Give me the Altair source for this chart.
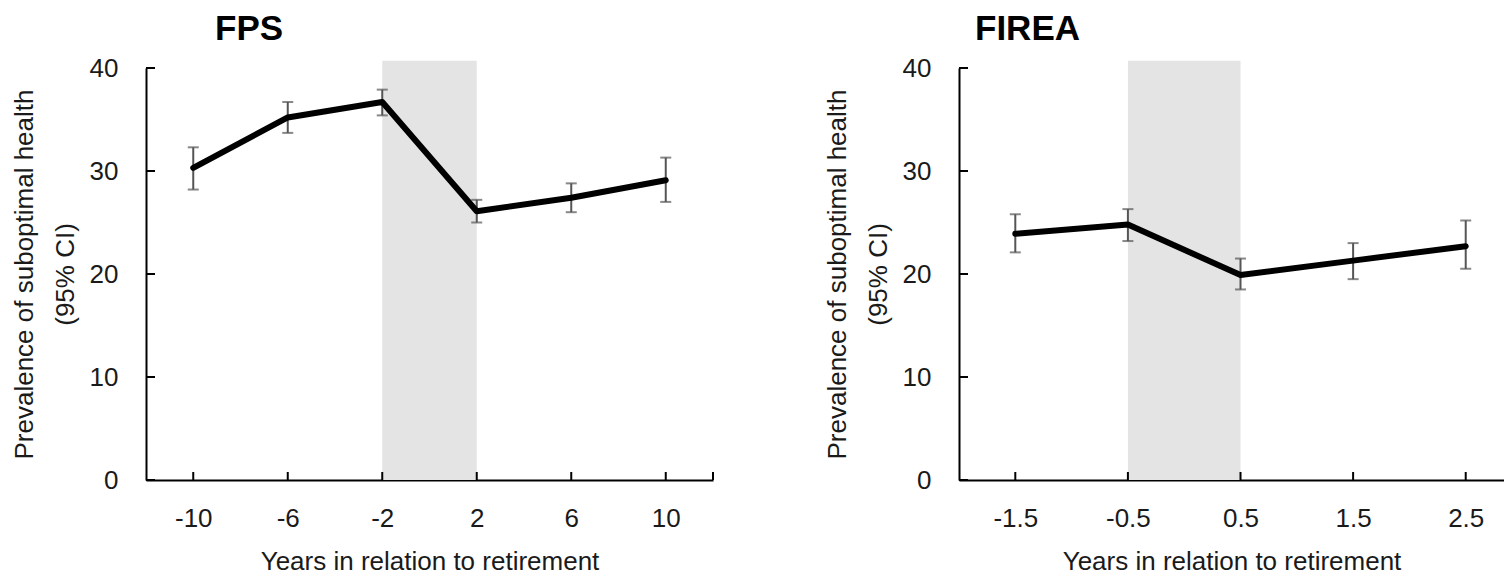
import altair as alt
import pandas as pd

# ---- data ----
fps_years = [-10, -6, -2, 2, 6, 10]
fps_prev = [30.3, 35.2, 36.7, 26.1, 27.4, 29.1]
fps_lo = [28.2, 33.7, 35.4, 25.0, 26.0, 27.0]
fps_hi = [32.3, 36.7, 37.9, 27.2, 28.8, 31.3]
fps_band = [-2, 2]

firea_years = [-1.5, -0.5, 0.5, 1.5, 2.5]
firea_prev = [23.9, 24.8, 19.9, 21.3, 22.7]
firea_lo = [22.1, 23.2, 18.5, 19.5, 20.5]
firea_hi = [25.8, 26.3, 21.5, 23.0, 25.2]
firea_band = [-0.5, 0.5]

y_ticks = [0, 10, 20, 30, 40]
y_title = ["Prevalence of suboptimal health", "(95% CI)"]
x_title = "Years in relation to retirement"

FONT = "Liberation Sans, Arial, sans-serif"
FS = 26
H = 412


def panel(title, title_dx, years, prev, lo, hi, band, xdom, width, fmt, extra_ticks):
    df = pd.DataFrame({"x": years, "p": prev, "lo": lo, "hi": hi})
    bdf = pd.DataFrame({"x1": [band[0]], "x2": [band[1]]})
    xt = pd.DataFrame({"x": years + extra_ticks})
    yt = pd.DataFrame({"y": y_ticks})

    label_expr = (
        f"datum.value < 0 ? '-' + format(-datum.value, '{fmt}') : format(datum.value, '{fmt}')"
    )
    xscale = alt.Scale(domain=xdom, nice=False, zero=False)
    yscale = alt.Scale(domain=[0, 40], nice=False)
    xaxis = alt.Axis(
        values=years, ticks=False, grid=False, domainColor="black", domainWidth=2,
        labelFont=FONT, labelFontSize=FS, labelColor="#1a1a1a", labelPadding=25,
        labelExpr=label_expr, labelFlush=False,
        title=x_title, titleFont=FONT, titleFontSize=FS, titleFontWeight="normal",
        titleColor="#1a1a1a", titlePadding=17,
    )
    yaxis = alt.Axis(
        values=y_ticks, ticks=False, grid=False, domainColor="black", domainWidth=2,
        labelFont=FONT, labelFontSize=FS, labelColor="#1a1a1a", labelPadding=28,
        title=y_title, titleFont=FONT, titleFontSize=FS, titleFontWeight="normal",
        titleColor="#1a1a1a", titlePadding=11, titleLineHeight=41,
    )

    band_layer = alt.Chart(bdf).mark_rect(color="#e4e4e4", clip=False).encode(
        x=alt.X("x1:Q", scale=xscale, axis=xaxis),
        x2="x2:Q",
        y=alt.datum(40.7, scale=yscale, axis=yaxis, type="quantitative"),
        y2=alt.datum(0),
    )
    xtick_layer = alt.Chart(xt).mark_rule(color="black", strokeWidth=2).encode(
        x=alt.X("x:Q", scale=xscale),
        y=alt.value(H),
        y2=alt.value(H - 8),
    )
    ytick_layer = alt.Chart(yt).mark_rule(color="black", strokeWidth=2).encode(
        y=alt.Y("y:Q", scale=yscale),
        x=alt.value(0),
        x2=alt.value(9),
    )
    err = alt.Chart(df).mark_rule(color="#555555", strokeWidth=2).encode(
        x=alt.X("x:Q", scale=xscale), y=alt.Y("lo:Q", scale=yscale), y2="hi:Q"
    )
    cap_lo = alt.Chart(df).mark_tick(color="#555555", thickness=2, size=11, orient="horizontal").encode(
        x=alt.X("x:Q", scale=xscale), y=alt.Y("lo:Q", scale=yscale)
    )
    cap_hi = alt.Chart(df).mark_tick(color="#555555", thickness=2, size=11, orient="horizontal").encode(
        x=alt.X("x:Q", scale=xscale), y=alt.Y("hi:Q", scale=yscale)
    )
    line = alt.Chart(df).mark_line(color="black", strokeWidth=6, strokeCap="round", strokeJoin="round").encode(
        x=alt.X("x:Q", scale=xscale), y=alt.Y("p:Q", scale=yscale)
    )
    return alt.layer(band_layer, xtick_layer, ytick_layer, err, cap_lo, cap_hi, line).properties(
        width=width, height=H,
        title=alt.TitleParams(title, anchor="start", dx=title_dx, fontSize=35, font=FONT,
                              fontWeight="bold", color="black", offset=8, frame="group"),
    )


left = panel("FPS", 69, fps_years, fps_prev, fps_lo, fps_hi, fps_band, [-12, 12], 567, "d", [12])
right = panel("FIREA", 16, firea_years, firea_prev, firea_lo, firea_hi, firea_band, [-2, 2.84], 545, ".1f", [])

chart = (
    alt.hconcat(left, right, spacing=110)
    .properties(padding={"left": 3, "top": 4, "right": 0, "bottom": 0}, background="white")
    .configure_view(stroke="transparent", strokeWidth=0)
)

chart.save("out.html", embed_options={"renderer": "svg", "actions": False})
